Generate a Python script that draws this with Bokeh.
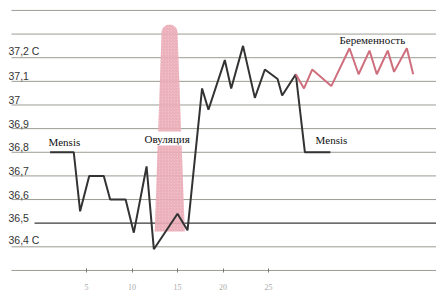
import numpy as np
from bokeh.plotting import figure
from bokeh.models import Range1d, Label, FixedTicker
from bokeh.core.properties import value
from bokeh.embed import file_html
from bokeh.resources import INLINE

# ---- data ----
cycle_days_black = [1, 3.6, 4.3, 5.3, 6.9, 7.6, 9.3, 10.2, 11.6, 12.4, 15.0, 16.1,
                    17.7, 18.4, 20.2, 20.9, 22.2, 23.5, 24.6, 26.0, 26.5, 28.0, 29.0, 31.8]
temp_black = [36.80, 36.80, 36.55, 36.70, 36.70, 36.60, 36.60, 36.46, 36.74, 36.39, 36.54, 36.47,
              37.07, 36.98, 37.19, 37.07, 37.25, 37.03, 37.15, 37.11, 37.04, 37.13, 36.80, 36.80]

cycle_days_preg = [28.0, 28.9, 29.8, 31.9, 33.9, 34.9, 36.1, 36.9, 38.1, 38.8, 40.2, 40.9]
temp_preg = [37.13, 37.07, 37.15, 37.08, 37.24, 37.13, 37.23, 37.13, 37.23, 37.14, 37.24, 37.13]

grid_levels = [37.4, 37.3, 37.2, 37.1, 37.0, 36.9, 36.8, 36.7, 36.6, 36.4, 36.3]
strong_level = [36.5]
y_label_values = [37.2, 37.1, 37.0, 36.9, 36.8, 36.7, 36.6, 36.5, 36.4]
y_label_texts = ["37,2 C", "37,1", "37", "36,9", "36,8", "36,7", "36,6", "36,5", "36,4 C"]
x_tick_values = [5, 10, 15, 20, 25]

# ovulation band
ovu_bottom = (12.5, 15.8)
ovu_top = (13.25, 15.0)
ovu_low, ovu_high = 36.465, 37.34

# ---- figure ----
p = figure(width=436, height=300, output_backend="svg", toolbar_location=None,
           x_range=Range1d(-4.45, 43.46), y_range=Range1d(36.2914, 37.442),
           min_border_left=0, min_border_right=0, min_border_top=0, min_border_bottom=28)
p.outline_line_color = None
p.grid.visible = False
p.yaxis.visible = False
p.background_fill_color = "white"
p.border_fill_color = "white"

ax = p.xaxis[0]
ax.ticker = FixedTicker(ticks=x_tick_values)
ax.axis_line_color = None
ax.major_tick_in = 4
ax.major_tick_out = 0
ax.minor_tick_line_color = None
ax.major_tick_line_color = "#777777"
ax.major_label_text_color = "#aaaaaa"
ax.major_label_text_font = "Liberation Serif"
ax.major_label_text_font_size = "8px"
ax.major_label_standoff = 11

# gridlines
gx0 = -3.24
gx1 = 43.5
p.segment(x0=[gx0] * len(grid_levels), y0=grid_levels, x1=[gx1] * len(grid_levels),
          y1=grid_levels, line_color="#9c9c94", line_width=1)
p.segment(x0=[-0.71], y0=strong_level, x1=[gx1], y1=strong_level,
          line_color="#3a3a3a", line_width=1.2)

# ovulation band patch (tapered, rounded top)
cx = (ovu_top[0] + ovu_top[1]) / 2
rx = (ovu_top[1] - ovu_top[0]) / 2
ry = 0.034
ang = np.linspace(0, np.pi, 20)
cap_x = list(cx + rx * np.cos(ang))
cap_y = list(ovu_high - ry + ry * np.sin(ang))
bx = [ovu_bottom[1]] + cap_x + [ovu_bottom[0]]
by = [ovu_low] + cap_y + [ovu_low]
p.patch(bx, by, fill_color="#efb6c0", fill_alpha=0.85, line_color=None,
        hatch_pattern="/", hatch_color="#e49aa8", hatch_scale=3, hatch_weight=0.6)

# lines
p.line(cycle_days_black, temp_black, line_color="#333333", line_width=2)
p.line(cycle_days_preg, temp_preg, line_color="#cf6f7e", line_width=2)

# y labels
p.text(x=[-3.57] * len(y_label_values), y=y_label_values, text=y_label_texts,
       text_font=value("Liberation Sans"), text_font_size="10.5px",
       text_color="#333333", text_baseline="bottom", y_offset=-1)

serif = "Liberation Serif"
p.add_layout(Label(x=0.82, y=36.816, text="Mensis", text_font=serif,
                   text_font_size="11px", text_color="#111111"))
p.add_layout(Label(x=30.16, y=36.825, text="Mensis", text_font=serif,
                   text_font_size="11px", text_color="#111111"))
p.add_layout(Label(x=32.8, y=37.248, text="Беременность", text_font=serif,
                   text_font_size="11px", text_color="#111111"))
p.add_layout(Label(x=11.27, y=36.858, text="Овуляция", text_font=serif,
                   text_font_size="11px", text_color="#111111",
                   text_baseline="middle", text_line_height=1.0,
                   background_fill_color="white", padding=1))
p.add_layout(Label(x=28.6, y=36.228, text="Дни цикла", text_font=serif,
                   text_font_size="12px", text_color="#111111",
                   text_baseline="middle"))

open("out.html", "w").write(file_html(p, INLINE))
